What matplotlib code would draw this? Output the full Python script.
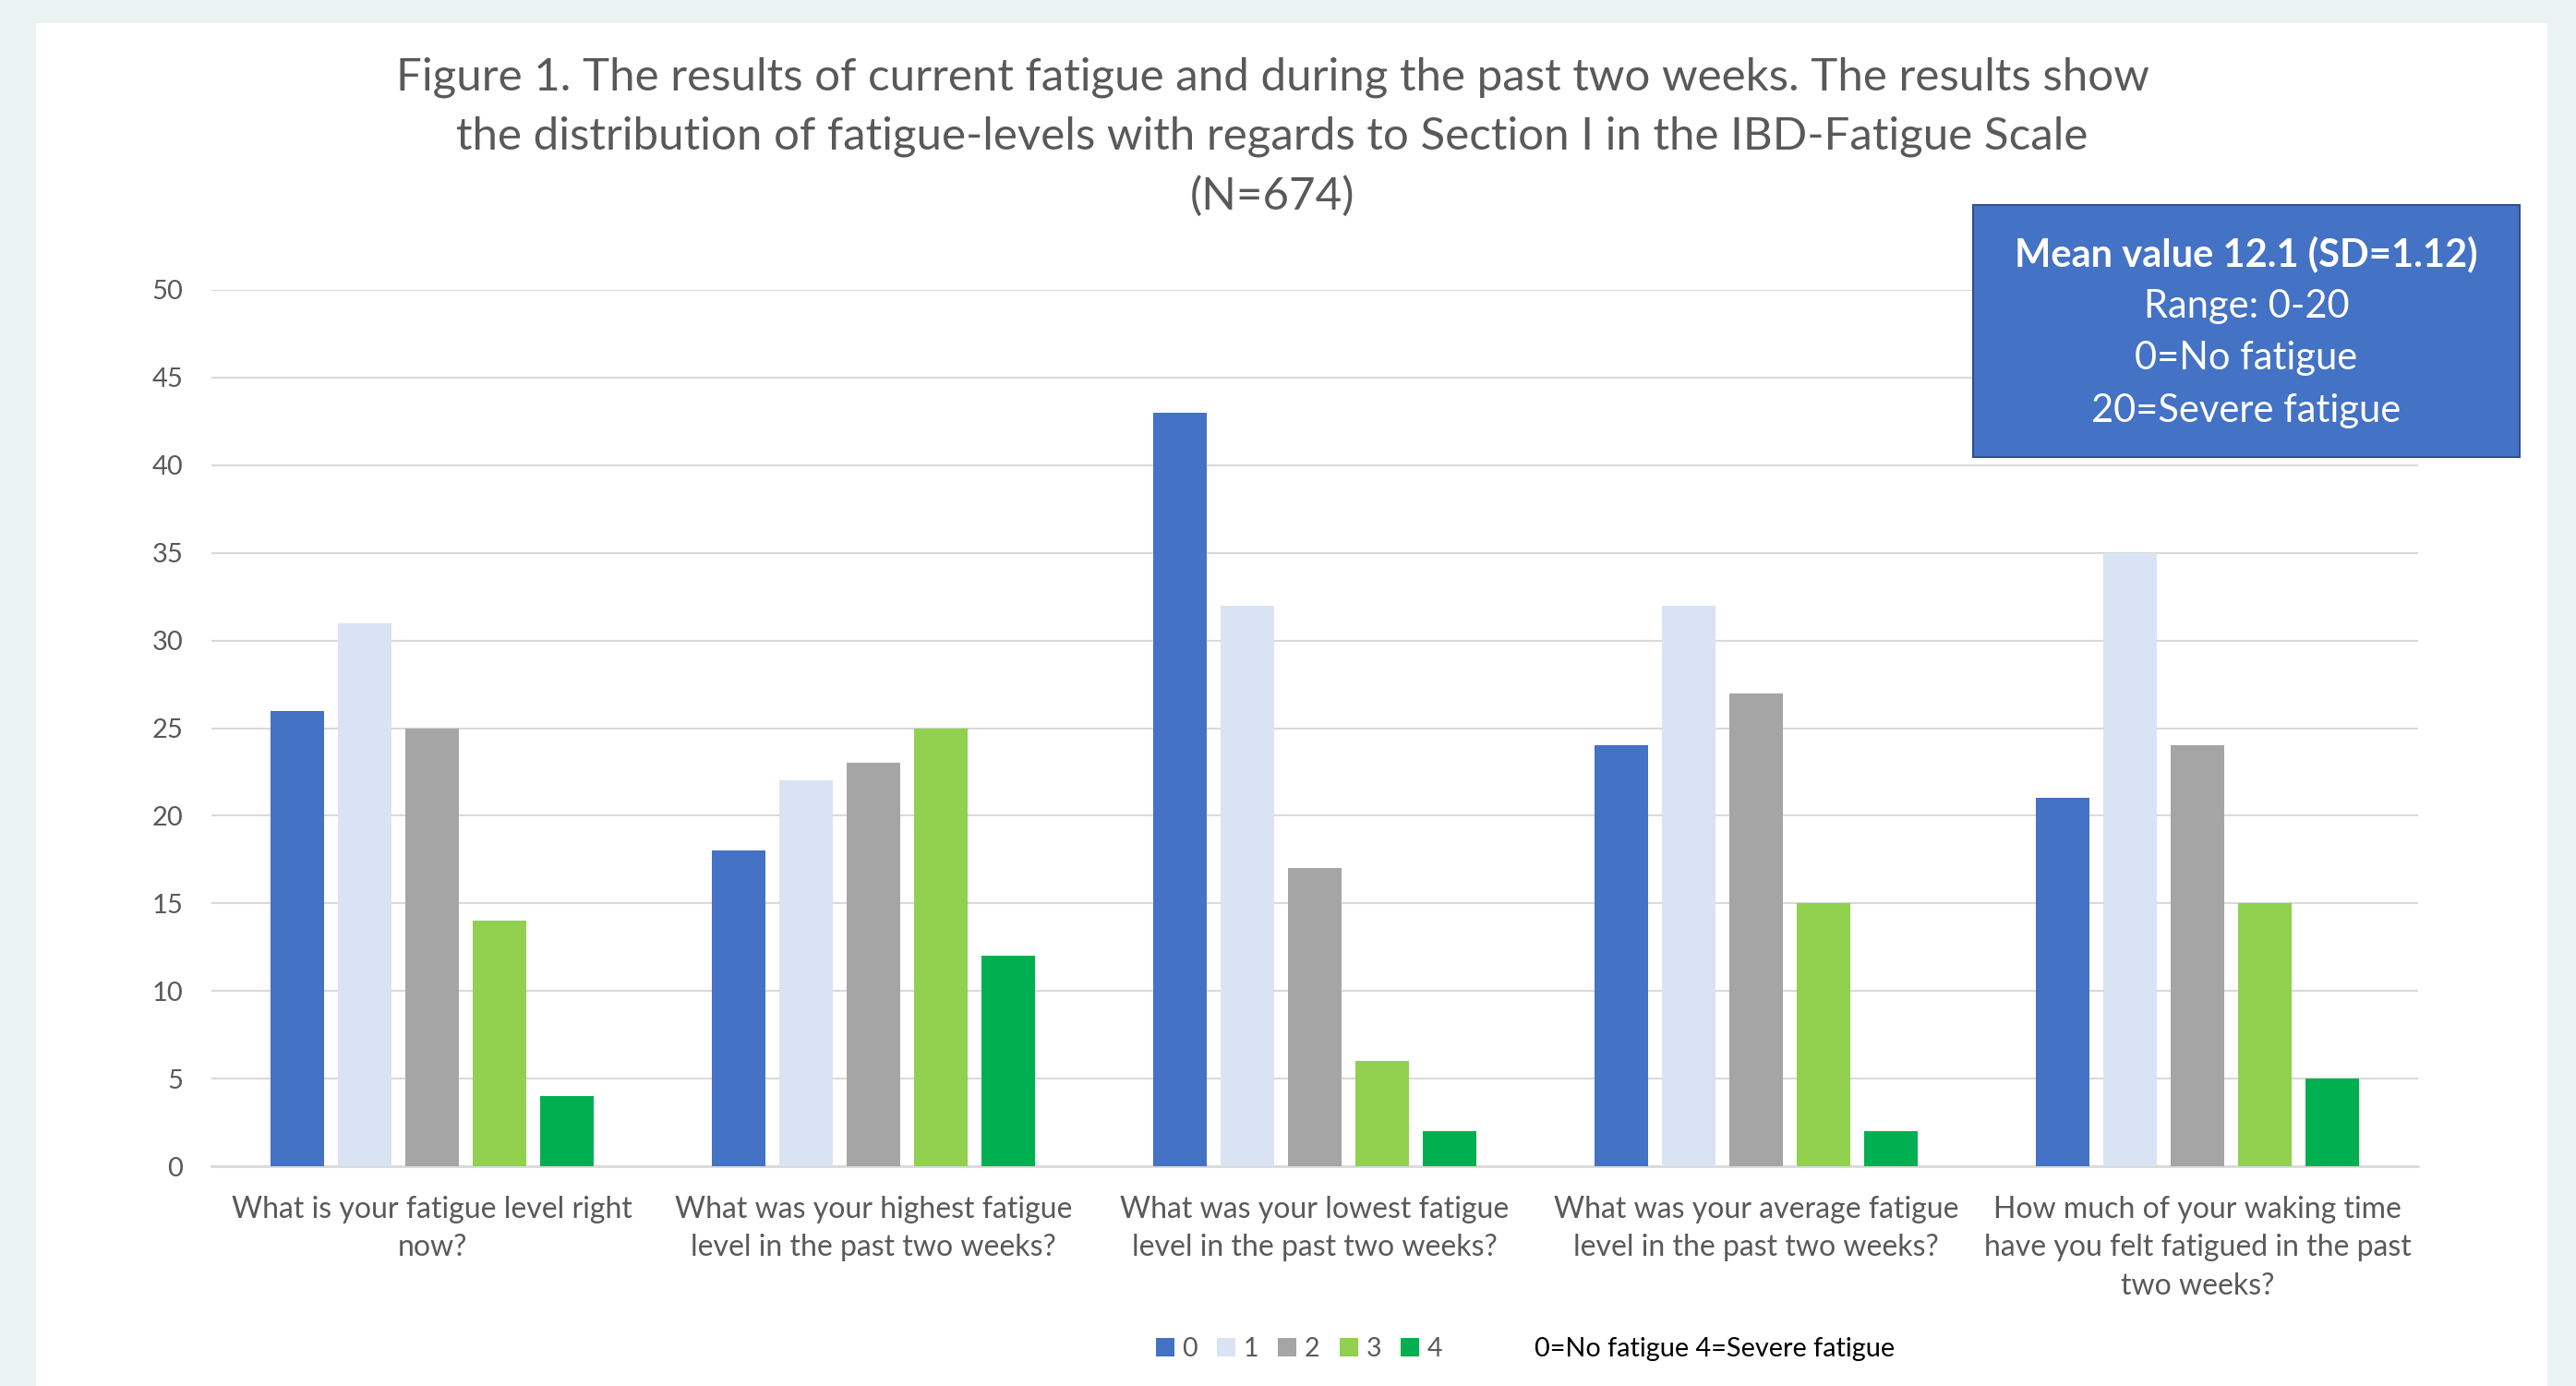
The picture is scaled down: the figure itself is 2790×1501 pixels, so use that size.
import numpy as np
import matplotlib.pyplot as plt
from matplotlib.patches import Rectangle, Patch

plt.rcParams['font.family'] = ['Lato', 'DejaVu Sans']

# Data
questions = [
    "What is your fatigue level right\nnow?",
    "What was your highest fatigue\nlevel in the past two weeks?",
    "What was your lowest fatigue\nlevel in the past two weeks?",
    "What was your average fatigue\nlevel in the past two weeks?",
    "How much of your waking time\nhave you felt fatigued in the past\ntwo weeks?",
]
levels = ["0", "1", "2", "3", "4"]
level_0 = [26, 18, 43, 24, 21]
level_1 = [31, 22, 32, 32, 35]
level_2 = [25, 23, 17, 27, 24]
level_3 = [14, 25, 6, 15, 15]
level_4 = [4, 12, 2, 2, 5]
series = [level_0, level_1, level_2, level_3, level_4]
colors = ["#4472C4", "#DAE3F3", "#A5A5A5", "#92D050", "#00B050"]

title = ("Figure 1. The results of current fatigue and during the past two weeks. The results show\n"
         "the distribution of fatigue-levels with regards to Section I in the IBD-Fatigue Scale\n"
         "(N=674)")
box_lines = ["Mean value 12.1 (SD=1.12)", "Range: 0-20", "0=No fatigue", "20=Severe fatigue"]

W, H = 2790, 1501
fig = plt.figure(figsize=(W / 100, H / 100), dpi=100)
fig.patch.set_facecolor("#eaf3f1")

# white panel behind the chart
fig.patches.append(Rectangle((39 / W, 0), (2759 - 39) / W, 1 - 25 / H,
                             transform=fig.transFigure, facecolor="white",
                             edgecolor="none", zorder=-10))

ax = fig.add_axes([229 / W, (H - 1263) / H, 2390 / W, (1263 - 314) / H])
ax.set_facecolor("none")

x = np.arange(len(questions))
step = 73 / 478
width = 58 / 478
for i, vals in enumerate(series):
    ax.bar(x + (i - 2) * step, vals, width=width, color=colors[i], zorder=3)

ax.set_xlim(-0.5, 4.5)
ax.set_ylim(0, 50)
ax.set_yticks(range(0, 51, 5))
ax.yaxis.grid(True, color="#D9D9D9", lw=1.5, zorder=0)
ax.set_axisbelow(True)
for s in ["top", "right", "left"]:
    ax.spines[s].set_visible(False)
ax.spines["bottom"].set_color("#D9D9D9")
ax.spines["bottom"].set_linewidth(2)
ax.tick_params(axis="both", length=0, labelcolor="#595959")
ax.tick_params(axis="y", pad=22, labelsize=21)
ax.tick_params(axis="x", pad=23, labelsize=23)
ax.set_xticks(x)
ax.set_xticklabels(questions, linespacing=1.48)

fig.text(1378 / W, 1 - 148 / H, title, ha="center", va="center",
         fontsize=35.5, color="#595959", linespacing=1.54)

# info box
fig.patches.append(Rectangle((2137 / W, 1 - 495 / H), (2729 - 2137) / W, (495 - 222) / H,
                             transform=fig.transFigure, facecolor="#4472C4",
                             edgecolor="#2F528F", lw=1.5, zorder=5))
for k, (line, yy) in enumerate(zip(box_lines, [275, 332, 388, 445])):
    fig.text(2433 / W, 1 - yy / H, line, ha="center", va="center", color="white",
             fontsize=30, fontweight="bold" if k == 0 else "normal", zorder=6)

handles = [Patch(facecolor=c, edgecolor="none") for c in colors]
fig.legend(handles, levels, loc="center", bbox_to_anchor=(1407 / W, 1 - 1461 / H),
           ncol=5, frameon=False, fontsize=20.5, labelcolor="#595959",
           handlelength=0.7, handleheight=0.7, handletextpad=0.3, columnspacing=0.75)
fig.text(1662 / W, 1 - 1461 / H, "0=No fatigue 4=Severe fatigue", ha="left", va="center",
         fontsize=20.8, color="black")

fig.savefig("out.png", dpi=100, facecolor=fig.get_facecolor())
